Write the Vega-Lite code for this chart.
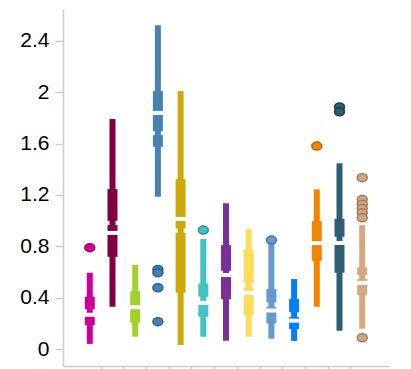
{
  "$schema": "https://vega.github.io/schema/vega-lite/v6.json",
  "width": 326,
  "height": 357,
  "autosize": "none",
  "padding": {"left": 63, "top": 9, "right": 22, "bottom": 3},
  "config": {
    "view": {"stroke": null},
    "font": "Liberation Sans",
    "axis": {"grid": false}
  },
  "datasets": {
    "boxes": [
      {"cat": "c01", "lo": 0.04, "q1": 0.187, "nlo": 0.275, "nhi": 0.311, "q3": 0.407, "hi": 0.594, "med": 0.267},
      {"cat": "c02", "lo": 0.329, "q1": 0.718, "nlo": 0.965, "nhi": 0.998, "q3": 1.245, "hi": 1.79, "med": 0.904},
      {"cat": "c03", "lo": 0.096, "q1": 0.205, "nlo": 0.326, "nhi": 0.326, "q3": 0.451, "hi": 0.654, "med": 0.326},
      {"cat": "c04", "lo": 1.185, "q1": 1.574, "nlo": 1.665, "nhi": 1.696, "q3": 2.008, "hi": 2.52, "med": 1.838},
      {"cat": "c05", "lo": 0.031, "q1": 0.438, "nlo": 0.905, "nhi": 0.939, "q3": 1.323, "hi": 2.008, "med": 1.013},
      {"cat": "c06", "lo": 0.096, "q1": 0.251, "nlo": 0.37, "nhi": 0.407, "q3": 0.511, "hi": 0.856, "med": 0.359},
      {"cat": "c07", "lo": 0.065, "q1": 0.389, "nlo": 0.58, "nhi": 0.609, "q3": 0.809, "hi": 1.134, "med": 0.576},
      {"cat": "c08", "lo": 0.096, "q1": 0.265, "nlo": 0.48, "nhi": 0.516, "q3": 0.776, "hi": 0.934, "med": 0.436},
      {"cat": "c09", "lo": 0.08, "q1": 0.2, "nlo": 0.329, "nhi": 0.363, "q3": 0.467, "hi": 0.84, "med": 0.3},
      {"cat": "c10", "lo": 0.063, "q1": 0.156, "nlo": 0.249, "nhi": 0.286, "q3": 0.389, "hi": 0.545, "med": 0.221},
      {"cat": "c11", "lo": 0.329, "q1": 0.687, "nlo": 0.825, "nhi": 0.825, "q3": 0.996, "hi": 1.243, "med": 0.825},
      {"cat": "c12", "lo": 0.143, "q1": 0.594, "nlo": 0.835, "nhi": 0.874, "q3": 1.012, "hi": 1.446, "med": 0.826},
      {"cat": "c13", "lo": 0.158, "q1": 0.42, "nlo": 0.545, "nhi": 0.576, "q3": 0.636, "hi": 0.965, "med": 0.515}
    ],
    "outliers": [
      {"cat": "c01", "value": 0.789},
      {"cat": "c04", "value": 0.62},
      {"cat": "c04", "value": 0.594},
      {"cat": "c04", "value": 0.477},
      {"cat": "c04", "value": 0.213},
      {"cat": "c06", "value": 0.926},
      {"cat": "c09", "value": 0.848},
      {"cat": "c11", "value": 1.58},
      {"cat": "c12", "value": 1.884},
      {"cat": "c12", "value": 1.847},
      {"cat": "c13", "value": 1.334},
      {"cat": "c13", "value": 1.165},
      {"cat": "c13", "value": 1.128},
      {"cat": "c13", "value": 1.095},
      {"cat": "c13", "value": 1.06},
      {"cat": "c13", "value": 1.022},
      {"cat": "c13", "value": 0.088}
    ]
  },
  "encoding": {
    "x": {
      "field": "cat",
      "type": "nominal",
      "scale": {
        "domain": ["c01","c02","c03","c04","c05","c06","c07","c08","c09","c10","c11","c12","c13"],
        "paddingInner": 0,
        "paddingOuter": 0.68
      },
      "axis": {
        "title": null,
        "labels": false,
        "bandPosition": 0,
        "values": ["c02","c03","c04","c05","c06","c07","c08","c09","c10","c11","c12","c13"],
        "domainColor": "#cccccc",
        "domainWidth": 1.5,
        "tickColor": "#cccccc",
        "tickWidth": 1.5,
        "tickSize": 4
      }
    }
  },
  "layer": [
    {
      "data": {"name": "boxes"},
      "mark": {"type": "bar", "size": 6},
      "encoding": {
        "y": {
          "field": "lo",
          "type": "quantitative",
          "scale": {"domain": [-0.132, 2.647], "nice": false, "zero": false},
          "axis": {
            "title": null,
            "values": [0, 0.4, 0.8, 1.2, 1.6, 2, 2.4],
            "format": "~g",
            "labelFontSize": 21,
            "labelColor": "#000000",
            "labelPadding": 6,
            "tickSize": 8,
            "tickColor": "#cccccc",
            "tickWidth": 1.5,
            "domainColor": "#cccccc",
            "domainWidth": 1.5
          }
        },
        "y2": {"field": "hi"},
        "color": {
          "field": "cat",
          "type": "nominal",
          "legend": null,
          "scale": {
            "domain": ["c01","c02","c03","c04","c05","c06","c07","c08","c09","c10","c11","c12","c13"],
            "range": ["#cc0099","#800040","#a3d12c","#4682b4","#ccaa0a","#42c2c2","#7a2f99","#fcdc5a","#6699cc","#0080ff","#f28500","#2e5e72","#d4a780"]
          }
        }
      }
    },
    {
      "data": {"name": "boxes"},
      "mark": {"type": "bar", "size": 10},
      "encoding": {
        "y": {"field": "q1", "type": "quantitative"},
        "y2": {"field": "nlo"},
        "color": {"field": "cat", "type": "nominal", "legend": null}
      }
    },
    {
      "data": {"name": "boxes"},
      "mark": {"type": "bar", "size": 10},
      "encoding": {
        "y": {"field": "nhi", "type": "quantitative"},
        "y2": {"field": "q3"},
        "color": {"field": "cat", "type": "nominal", "legend": null}
      }
    },
    {
      "data": {"name": "boxes"},
      "mark": {"type": "tick", "color": "#ffffff", "thickness": 4, "size": 13, "opacity": 1},
      "encoding": {
        "y": {"field": "med", "type": "quantitative"}
      }
    },
    {
      "data": {"name": "outliers"},
      "mark": {
        "type": "point",
        "filled": true,
        "opacity": 1,
        "size": 100,
        "strokeWidth": 1.5,
        "shape": "M -1 0 A 1 0.8 0 1 0 1 0 A 1 0.8 0 1 0 -1 0 Z"
      },
      "encoding": {
        "y": {"field": "value", "type": "quantitative"},
        "fill": {
          "field": "cat",
          "type": "nominal",
          "legend": null,
          "scale": {
            "domain": ["c01","c02","c03","c04","c05","c06","c07","c08","c09","c10","c11","c12","c13"],
            "range": ["#cc0099","#800040","#a3d12c","#4682b4","#ccaa0a","#42c2c2","#7a2f99","#fcdc5a","#6699cc","#0080ff","#f28500","#2e5e72","#d4a780"]
          }
        },
        "stroke": {
          "field": "cat",
          "type": "nominal",
          "legend": null,
          "scale": {
            "domain": ["c01","c02","c03","c04","c05","c06","c07","c08","c09","c10","c11","c12","c13"],
            "range": ["#a3007a","#60002f","#7fa322","#2f5f8c","#9e8408","#2b8f8f","#5a2273","#c9ad45","#4a75a3","#0060c0","#b86400","#1d3d4a","#a07b5a"]
          }
        }
      }
    }
  ]
}
